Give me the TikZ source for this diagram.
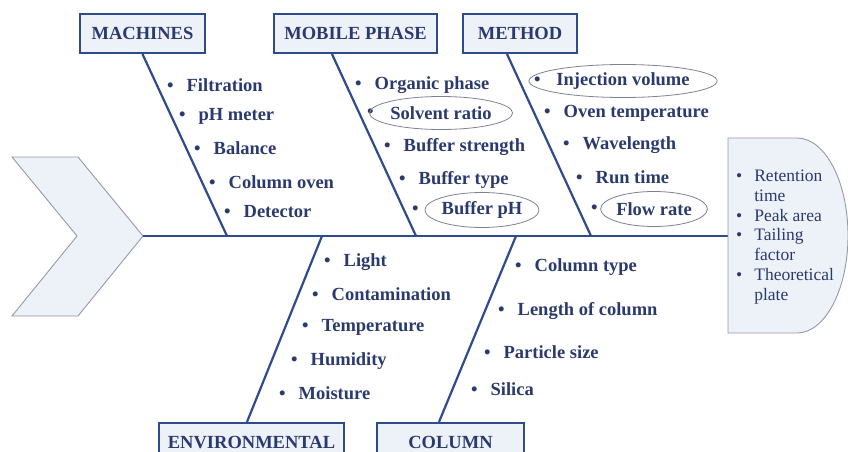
\documentclass[tikz,border=0pt]{standalone}
\usepackage{fontspec}
\setmainfont{Liberation Serif}
\usetikzlibrary{shapes.geometric,calc}
\definecolor{navy}{HTML}{2B3A6E}
\definecolor{ribblue}{HTML}{2E4B8C}
\definecolor{boxfill}{HTML}{EDF1F8}
\definecolor{chevline}{HTML}{9299A8}
\definecolor{ringline}{HTML}{7C8290}
\tikzset{
  cause/.style={draw=ribblue,line width=2.2pt,fill=boxfill,text=navy,
    font=\fontsize{18.5}{20}\selectfont\bfseries,minimum height=39pt,inner sep=0pt},
  item/.style={anchor=west,inner sep=0pt,text=navy,font=\fontsize{18.5}{20}\selectfont\bfseries},
  ring/.style={ellipse,draw=ringline,line width=0.8pt,inner sep=0pt,text=navy,
    font=\fontsize{18.5}{20}\selectfont\bfseries},
  rib/.style={draw=ribblue,line width=2.2pt}
}
\newcommand{\itm}[1]{\textbullet\hspace{13pt}#1}
\begin{document}
\begin{tikzpicture}[x=1pt,y=-1pt]
			\useasboundingbox (0,0) rectangle (848,452);
			\clip (0,0) rectangle (848,452);
			%Dau ca
			\draw[draw=chevline,fill=boxfill,line width=0.9pt] (12,157)--(78,157)--(143,236)--(78,316)--(12,316)--(77,236)--cycle;
			%Xuong song
			\coordinate (head) at (143,236);
			\coordinate (tail) at (728,236);
			\draw[rib] (head)--(tail);
			%Ket qua
			\draw[draw=chevline,fill=boxfill,line width=0.9pt] (728,138)--(797,138) arc[start angle=90,end angle=-90,x radius=51pt,y radius=97.5pt]--(728,333)--cycle;
			\node (effect) [anchor=west,inner sep=0pt,text=navy,font=\fontsize{17.5}{19.7}\selectfont] at (736,237)
			{\begin{tabular}{@{}l@{\hspace{12pt}}l@{}}
			\textbullet & Retention\\ & time\\ \textbullet & Peak area\\ \textbullet & Tailing\\ & factor\\ \textbullet & Theoretical\\ & plate
			\end{tabular}};
			%Cac nhanh
			\coordinate (s1) at (227,236);
			\coordinate (s2) at (416,236);
			\coordinate (s3) at (591,236);
			\coordinate (s4) at (322,236);
			\coordinate (s5) at (516,236);
			\node[cause,minimum width=125pt] (machines) at (142.5,33.5) {MACHINES};
			\node[cause,minimum width=163pt] (mobile) at (355.5,33.5) {MOBILE PHASE};
			\node[cause,minimum width=114pt] (method) at (520,33.5) {METHOD};
			\node[cause,minimum width=185pt] (env) at (251.5,442.5) {ENVIRONMENTAL};
			\node[cause,minimum width=147pt] (column) at (450.5,442.5) {COLUMN};
			\draw[rib] (machines.south)--(s1);
			\draw[rib] ($(mobile.south)+(-23.5,0)$)--(s2);
			\draw[rib] ($(method.south)+(-13,0)$)--(s3);
			\draw[rib] ($(env.north)+(-4.5,0)$)--(s4);
			\draw[rib] ($(column.north)+(-11.5,0)$)--(s5);
			%Machines
			\node[item] (ma1) at (167,85) {\itm{Filtration}};
			\node[item] (ma2) at (179,116) {\itm{pH meter}};
			\node[item] (ma3) at (194,148) {\itm{Balance}};
			\node[item] (ma4) at (209,182) {\itm{Column oven}};
			\node[item] (ma5) at (224,212) {\itm{Detector}};
			%Mobile phase
			\node[item] (mp1) at (355,85) {\itm{Organic phase}};
			\node[item] (mp2b) at (367,113) {\textbullet};
			\node[ring,minimum width=128pt,minimum height=33pt] (mp2) at (441,113) {Solvent ratio};
			\node[item] (mp3) at (384,147) {\itm{Buffer strength}};
			\node[item] (mp4) at (399,180) {\itm{Buffer type}};
			\node[item] (mp5b) at (412,210) {\textbullet};
			\node[ring,minimum width=113pt,minimum height=35pt] (mp5) at (482,210) {Buffer pH};
			%Method
			\node[item] (me1b) at (534,81) {\textbullet};
			\node[ring,minimum width=162pt,minimum height=33pt] (me1) at (623,81) {Injection volume};
			\node[item] (me2) at (544,113) {\itm{Oven temperature}};
			\node[item] (me3) at (563,145) {\itm{Wavelength}};
			\node[item] (me4) at (576,177) {\itm{Run time}};
			\node[item] (me5b) at (591,209) {\textbullet};
			\node[ring,minimum width=100pt,minimum height=35pt] (me5) at (654,209) {Flow rate};
			%Environmental
			\node[item] (en1) at (324,262) {\itm{Light}};
			\node[item] (en2) at (312,294) {\itm{Contamination}};
			\node[item] (en3) at (302,327) {\itm{Temperature}};
			\node[item] (en4) at (291,361) {\itm{Humidity}};
			\node[item] (en5) at (279,393) {\itm{Moisture}};
			%Column
			\node[item] (co1) at (515,267) {\itm{Column type}};
			\node[item] (co2) at (498,311) {\itm{Length of column}};
			\node[item] (co3) at (484,352) {\itm{Particle size}};
			\node[item] (co4) at (471,389) {\itm{Silica}};
\end{tikzpicture}
\end{document}
